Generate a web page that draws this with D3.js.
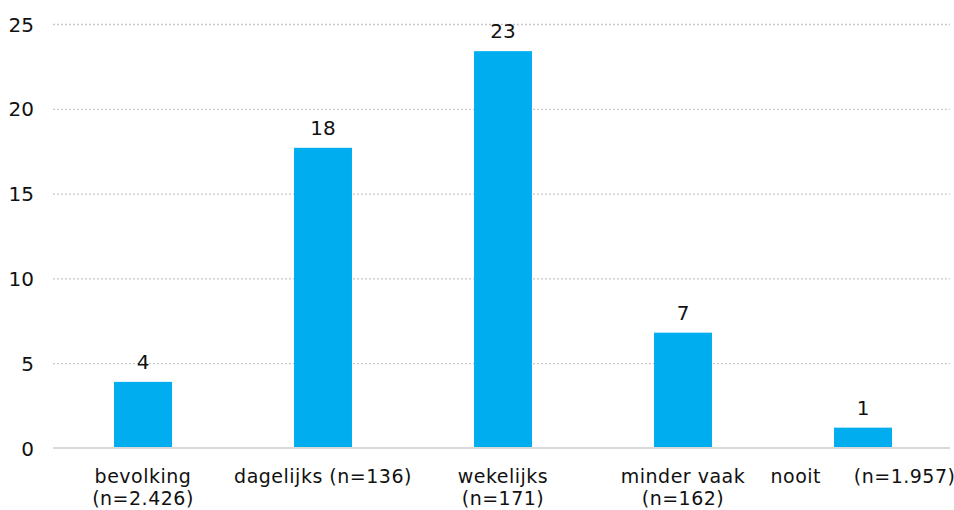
<!DOCTYPE html>
<html><head><meta charset="utf-8">
<script src="https://cdn.jsdelivr.net/npm/d3@7"></script>
<style>body{margin:0;background:#fff}svg{display:block}text{font-family:"DejaVu Sans",sans-serif;fill:#111}</style>
</head><body>
<svg id="c" width="954" height="510"></svg>
<script>
const categories = ["bevolking", "dagelijks", "wekelijks", "minder vaak", "nooit"];
const categoryLines = [["bevolking", "(n=2.426)"], ["dagelijks (n=136)"], ["wekelijks", "(n=171)"], ["minder vaak", "(n=162)"], ["nooit\u00a0\u00a0\u00a0\u00a0\u00a0(n=1.957)"]];
const values = [3.9, 17.7, 23.4, 6.8, 1.2];
const yTicks = [0, 5, 10, 15, 20, 25];

const svg = d3.select("#c");
const m = {left: 53, right: 953, top: 24, bottom: 448};
const x = d3.scaleBand().domain(categories).range([m.left, m.right]).paddingInner(0.678).paddingOuter(0.339);
const y = d3.scaleLinear().domain([0, 25]).range([m.bottom, m.top]);

// grid
svg.append("g").selectAll("line").data(yTicks.filter(t => t > 0)).join("line")
  .attr("x1", m.left).attr("x2", 950).attr("y1", d => y(d) + 0.5).attr("y2", d => y(d) + 0.5)
  .attr("stroke", "#c8c8c8").attr("stroke-width", 1.3).attr("stroke-dasharray", "2,2");

// y axis labels
const yAxis = d3.axisLeft(y).tickValues(yTicks).tickSize(0).tickPadding(0).tickFormat(d3.format("d"));
const ga = svg.append("g").attr("transform", "translate(34,0)").call(yAxis);
ga.select(".domain").remove();
ga.selectAll("text").attr("font-size", 20).attr("font-family", "DejaVu Sans").attr("fill", "#111").attr("dy", "0.35em");

// bars
svg.append("g").selectAll("rect").data(values).join("rect")
  .attr("x", (d, i) => x(categories[i])).attr("width", x.bandwidth())
  .attr("y", d => y(d)).attr("height", d => y(0) - y(d))
  .attr("fill", "#00AEEF");

// baseline
svg.append("line").attr("x1", m.left).attr("x2", 950).attr("y1", y(0)).attr("y2", y(0))
  .attr("stroke", "#d9d9d9").attr("stroke-width", 2);

// value labels
svg.append("g").selectAll("text").data(values).join("text")
  .attr("x", (d, i) => x(categories[i]) + x.bandwidth() / 2).attr("y", d => y(d) - 13)
  .attr("text-anchor", "middle").attr("font-size", 20).text(d => d3.format(".0f")(d));

// category labels
const cl = svg.append("g").selectAll("text").data(categoryLines).join("text")
  .attr("x", (d, i) => x(categories[i]) + x.bandwidth() / 2).attr("y", 483)
  .attr("text-anchor", "middle").attr("font-size", 19).attr("letter-spacing", 0.5);
cl.selectAll("tspan").data(d => d).join("tspan")
  .attr("x", function() { return this.parentNode.getAttribute("x"); })
  .attr("dy", (d, i) => i === 0 ? 0 : 22).text(d => d);
</script>
</body></html>
